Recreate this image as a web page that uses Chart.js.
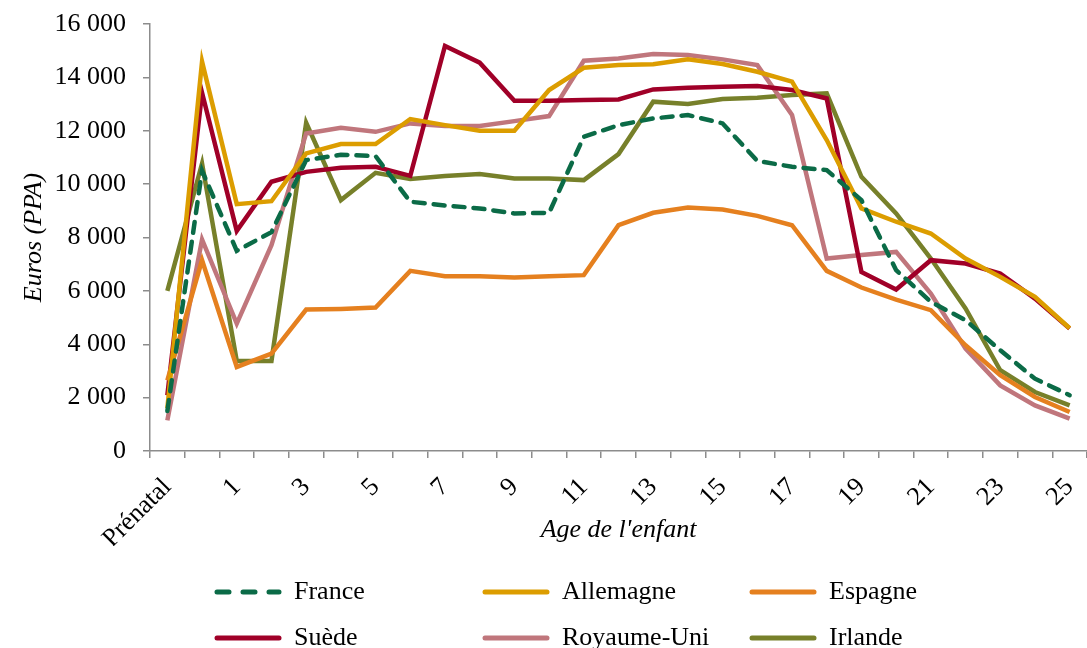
<!DOCTYPE html>
<html>
<head>
<meta charset="utf-8">
<script src="https://cdn.jsdelivr.net/npm/chart.js@4"></script>
<style>
  html, body { margin: 0; padding: 0; background: #fff; }
  #wrap { width: 1087px; height: 648px; }
</style>
</head>
<body>
<div id="wrap"><canvas id="chart"></canvas></div>
<script>
const ages = ['Prénatal', '0', '1', '2', '3', '4', '5', '6', '7', '8', '9', '10', '11', '12',
    '13', '14', '15', '16', '17', '18', '19', '20', '21', '22', '23', '24', '25'];

const france     = [1500, 10500, 7500, 8200, 10900, 11100, 11050, 9340, 9200, 9090, 8900, 8925, 11775, 12210,
    12460, 12590, 12275, 10870, 10650, 10525, 9400, 6775, 5590, 4900, 3775, 2710, 2090];
const allemagne  = [1600, 14590, 9250, 9360, 11150, 11500, 11500, 12440, 12210, 12000, 12000, 13525, 14360, 14460,
    14490, 14675, 14500, 14210, 13840, 11650, 9090, 8590, 8150, 7210, 6525, 5775, 4600];
const espagne    = [2650, 7150, 3150, 3650, 5300, 5325, 5375, 6750, 6550, 6550, 6500, 6550, 6590, 8460,
    8925, 9125, 9050, 8810, 8460, 6750, 6125, 5675, 5275, 3960, 2840, 2025, 1460];
const suede      = [2090, 13425, 8250, 10090, 10460, 10610, 10650, 10310, 15175, 14550, 13125, 13125, 13150, 13175,
    13550, 13610, 13650, 13675, 13525, 13210, 6710, 6050, 7150, 7025, 6650, 5710, 4590];
const royaumeUni = [1150, 7925, 4775, 7710, 11900, 12110, 11960, 12275, 12175, 12175, 12360, 12550, 14625, 14710,
    14875, 14840, 14675, 14460, 12590, 7210, 7340, 7460, 5900, 3840, 2460, 1710, 1210];
const irlande    = [6000, 10775, 3375, 3375, 12300, 9400, 10425, 10190, 10300, 10375, 10210, 10210, 10150, 11125,
    13090, 13000, 13190, 13240, 13340, 13400, 10275, 8900, 7210, 5340, 3025, 2210, 1710];

const FONT = "'Liberation Serif', 'Times New Roman', serif";
const GREY = '#8c8c8c';

function line(label, data, color, dash) {
    return {
        label: label,
        data: data,
        borderColor: color,
        backgroundColor: color,
        borderWidth: 4.5,
        borderDash: dash || [],
        borderCapStyle: dash ? 'round' : 'butt',
        pointRadius: 0,
        tension: 0,
        fill: false
    };
}

const datasets = [
    line('France', france, '#0b6b47', [11, 9]),
    line('Allemagne', allemagne, '#dc9d00'),
    line('Espagne', espagne, '#e5801f'),
    line('Suède', suede, '#a00028'),
    line('Royaume-Uni', royaumeUni, '#c0767c'),
    line('Irlande', irlande, '#77802a')
];

// legend drawn in three fixed columns, as in the source figure
const gridLegend = {
    id: 'gridLegend',
    afterDraw(chart) {
        const ctx = chart.ctx;
        const cols = [215, 483, 750];
        const rows = [592, 638];
        ctx.save();
        ctx.font = '26px ' + FONT;
        ctx.textBaseline = 'middle';
        ctx.fillStyle = '#000';
        chart.data.datasets.forEach((ds, i) => {
            const x = cols[i % 3], y = rows[Math.floor(i / 3)];
            ctx.beginPath();
            ctx.strokeStyle = ds.borderColor;
            ctx.lineWidth = 5;
            ctx.lineCap = 'round';
            if (ds.borderDash.length) {
                ctx.setLineDash([12, 14]);
            } else {
                ctx.setLineDash([]);
            }
            ctx.moveTo(x + 2, y);
            ctx.lineTo(x + 64, y);
            ctx.stroke();
            ctx.setLineDash([]);
            ctx.fillText(ds.label, x + 79, y);
        });
        ctx.restore();
    }
};

new Chart(document.getElementById('chart'), {
    type: 'line',
    data: { labels: ages, datasets: datasets },
    options: {
        responsive: true,
        maintainAspectRatio: false,
        animation: false,
        layout: { padding: { top: 24, left: 0, right: -8, bottom: 102 } },
        plugins: {
            legend: { display: false },
            tooltip: { enabled: false }
        },
        scales: {
            x: {
                type: 'category',
                offset: true,
                grid: { drawOnChartArea: false, offset: true, color: GREY, lineWidth: 1.5, tickLength: 7 },
                border: { color: GREY, width: 1.5 },
                ticks: {
                    autoSkip: false,
                    minRotation: 45,
                    maxRotation: 45,
                    padding: 14,
                    color: '#000',
                    font: { family: FONT, size: 26 },
                    callback: function (v, i) { return i % 2 === 0 ? ages[i] : ''; }
                },
                title: {
                    display: true,
                    text: "Age de l'enfant",
                    color: '#000',
                    font: { family: FONT, size: 26, style: 'italic' },
                    padding: { top: 0, bottom: 0 }
                },
                afterFit: function (s) {
                    s.height = 95;
                    s.paddingLeft = 0;
                    s.paddingRight = 0;
                }
            },
            y: {
                min: 0,
                max: 16000,
                grid: { drawOnChartArea: false, color: GREY, lineWidth: 1.5, tickLength: 7 },
                border: { color: GREY, width: 1.5 },
                ticks: {
                    stepSize: 2000,
                    padding: 17,
                    color: '#000',
                    font: { family: FONT, size: 26 },
                    callback: function (v) {
                        return String(v).replace(/\B(?=(\d{3})+(?!\d))/g, ' ');
                    }
                },
                title: {
                    display: true,
                    text: 'Euros (PPA)',
                    color: '#000',
                    font: { family: FONT, size: 26, style: 'italic' },
                    padding: { top: 19, bottom: 0 }
                },
                afterFit: function (s) {
                    s.width = 150;
                    s.paddingTop = 0;
                    s.paddingBottom = 0;
                }
            }
        }
    },
    plugins: [gridLegend]
});
</script>
</body>
</html>
